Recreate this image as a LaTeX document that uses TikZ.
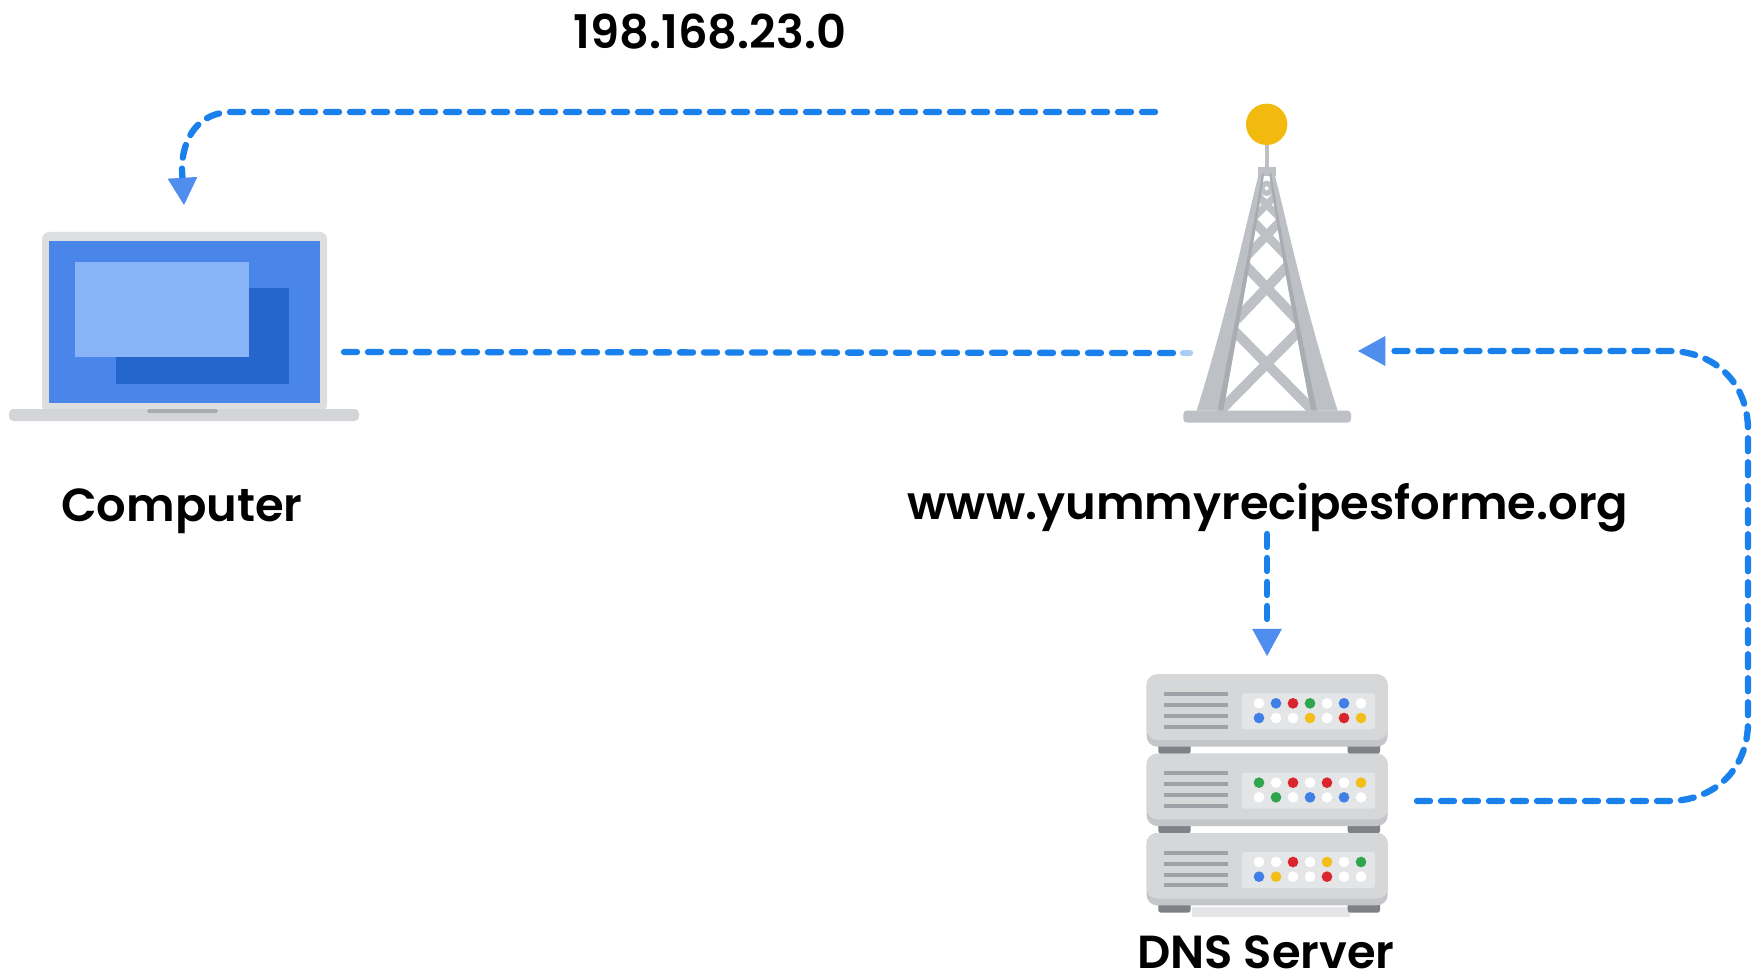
\documentclass[tikz,border=0pt]{standalone}
\usepackage{fontspec}
\setmainfont{Poppins SemiBold}
\usetikzlibrary{arrows.meta}
\definecolor{linkblue}{HTML}{1A80EC}
\definecolor{tipblue}{HTML}{4F8DEE}
\definecolor{faintblue}{HTML}{A9CDF5}
\definecolor{lidgray}{HTML}{DDDEE0}
\definecolor{basegray}{HTML}{D3D5D8}
\definecolor{notchgray}{HTML}{A9ABAE}
\definecolor{screenblue}{HTML}{4A86EA}
\definecolor{winlight}{HTML}{88B3F6}
\definecolor{windark}{HTML}{2466CB}
\definecolor{towergray}{HTML}{BDC0C5}
\definecolor{towerdark}{HTML}{A9ACB1}
\definecolor{ballyellow}{HTML}{F2B90F}
\definecolor{srvgray}{HTML}{D6D7D9}
\definecolor{srvedge}{HTML}{C4C6C9}
\definecolor{srvpanel}{HTML}{E4E5E7}
\definecolor{srvvent}{HTML}{9EA1A6}
\definecolor{srvfoot}{HTML}{7E8186}
\definecolor{dw}{HTML}{FFFFFF}
\definecolor{db}{HTML}{3F7FE6}
\definecolor{dr}{HTML}{D9252B}
\definecolor{dg}{HTML}{2FA64E}
\definecolor{dy}{HTML}{F4BE18}
\tikzset{
  link/.style={draw=linkblue,line width=3.6pt,line cap=round,dash pattern=on 7.4pt off 6.26pt},
  tipped/.style={link,-{Triangle[length=15.5pt,width=17pt,fill=tipblue,color=tipblue,line width=0pt]}},
  label/.style={inner sep=0pt,text=black,font=\fontsize{26.4pt}{30pt}\selectfont},
  brace/.style={draw=towergray,line width=5.7pt},
}
\begin{document}
\begin{tikzpicture}[x=0.02cm,y=-0.02cm]
\useasboundingbox (0,0) rectangle (1764,976);
\fill[white] (0,0) rectangle (1764,976);
% laptop
\fill[lidgray,rounded corners=4pt] (42,232) rectangle (327,412);
\fill[screenblue] (49,241) rectangle (320,403);
\fill[windark] (116,288) rectangle (289,384);
\fill[winlight] (75,262) rectangle (249,357);
\fill[basegray,rounded corners=2.5pt] (9,409) rectangle (359,421);
\fill[notchgray,rounded corners=1pt] (147,409) rectangle (218,413);
% tower
\begin{scope}[shift={(1160,90)},x=0.02cm/3,y=-0.02cm/3]
  \fill[towergray] (314,165) rectangle (326,240);
  \fill[ballyellow] (320,103) circle (62);
  \fill[towergray] (295,232) rectangle (347,258);
  \draw[brace] (215,715) -- (455,958);
  \draw[brace] (425,715) -- (185,958);
  \draw[brace] (228,690) -- (385,525);
  \draw[brace] (412,690) -- (255,525);
  \draw[brace,line width=5pt] (262,497) -- (362,392);
  \draw[brace,line width=5pt] (378,497) -- (278,392);
  \draw[brace,line width=4pt] (285,380) -- (345,318);
  \draw[brace,line width=4pt] (355,380) -- (295,318);
  \draw[towergray,line width=3pt] (320,295) circle (15);
  \fill[towergray] (297,250) .. controls (265,370) and (210,640) .. (110,962) -- (190,962)
     .. controls (225,760) and (290,420) .. (312,250) -- cycle;
  \fill[towergray] (343,250) .. controls (375,370) and (430,640) .. (533,962) -- (453,962)
     .. controls (415,760) and (350,420) .. (328,250) -- cycle;
  \fill[towerdark] (190,962) .. controls (225,760) and (290,420) .. (312,250)
     -- (306,250) .. controls (280,420) and (212,760) .. (172,962) -- cycle;
  \fill[towerdark] (453,962) .. controls (415,760) and (350,420) .. (328,250)
     -- (334,250) .. controls (360,420) and (428,760) .. (471,962) -- cycle;
  \fill[towergray,rounded corners=2pt] (70,962) rectangle (573,998);
\end{scope}
% server
\begin{scope}[shift={(1120,640)},x=0.02cm/3,y=-0.02cm/3]
  \fill[srvpanel] (215,800) rectangle (690,830);
  \foreach \top/\rowa/\rowb in {
      0/{dw,db,dr,dg,dw,db,dw}/{db,dw,dw,dy,dw,dr,dy},
      238/{dg,dw,dr,dw,dr,dw,dy}/{dw,dg,dw,db,dw,db,dw},
      476/{dw,dw,dr,dw,dy,dw,dg}/{db,dy,dw,dw,dr,dw,dw}} {
    \begin{scope}[yshift=-\top*0.02cm/3]
      \fill[srvfoot,rounded corners=1.5pt] (115,310) rectangle (212,342);
      \fill[srvfoot,rounded corners=1.5pt] (683,310) rectangle (780,342);
      \fill[srvedge,rounded corners=6pt] (80,103) rectangle (803,320);
      \fill[srvgray,rounded corners=6pt] (80,103) rectangle (803,300);
      \foreach \vy in {162,195,228,260}
        \fill[srvvent] (132,\vy-6) rectangle (325,\vy+6);
      \fill[srvpanel,rounded corners=1.5pt] (365,160) rectangle (765,268);
      \foreach \col [count=\n from 0] in \rowa
        \fill[\col] (417+\n*51,190) circle (16);
      \foreach \col [count=\n from 0] in \rowb
        \fill[\col] (417+\n*51,234) circle (16);
    \end{scope}
  }
\end{scope}
% labels
\node[label] (addr) at (710,32) {198.168.23.0};
\node[label] (comp) at (182,511) {Computer};
\node[label] (site) at (1268,508) {www.yummyrecipesforme.org};
\node[label] (dns) at (1266,952) {DNS Server};
% connector ends
\coordinate (replyStart) at (1155,112);
\coordinate (laptopTop) at (184,205);
\coordinate (laptopSide) at (344,352);
\coordinate (towerSide) at (1175,353);
\coordinate (towerFade) at (1183,353);
\coordinate (towerFadeEnd) at (1190,353);
\coordinate (towerEast) at (1358,351);
\coordinate (siteDown) at (1267,534);
\coordinate (dnsTop) at (1267,656);
\coordinate (dnsEast) at (1417,801);
% connectors
\draw[tipped] (replyStart) -- (232,112) .. controls (200,112) and (182,136) .. (182,170) -- (laptopTop);
\draw[link] (laptopSide) -- (towerSide);
\draw[draw=faintblue,line width=3.6pt,line cap=round] (towerFade) -- (towerFadeEnd);
\draw[tipped] (dnsEast) -- (1668,801) .. controls (1716,801) and (1748,768) .. (1748,722)
   -- (1748,430) .. controls (1748,384) and (1716,351) .. (1668,351) -- (towerEast);
\draw[tipped] (siteDown) -- (dnsTop);
\end{tikzpicture}
\end{document}
